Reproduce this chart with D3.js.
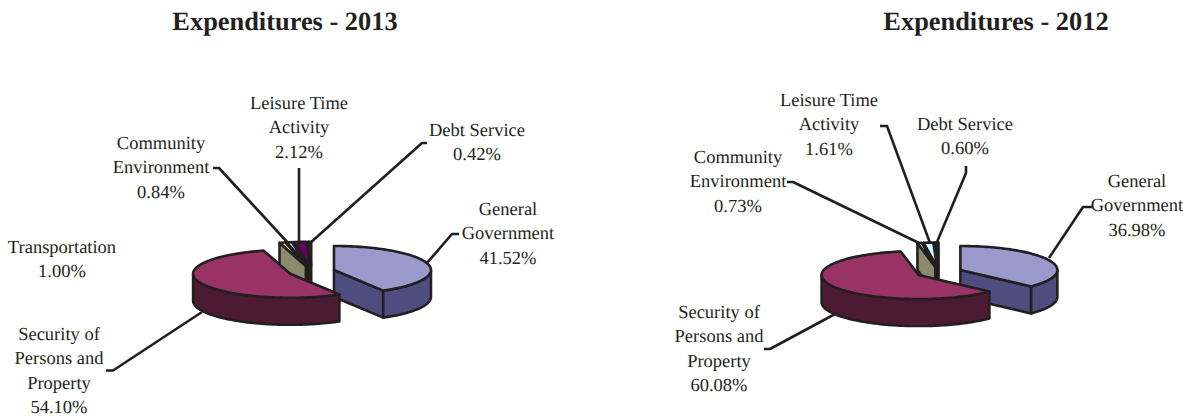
<!DOCTYPE html>
<html>
<head>
<meta charset="utf-8">
<script src="https://cdn.jsdelivr.net/npm/d3@7/dist/d3.min.js"></script>
<style>
  html, body { margin: 0; padding: 0; background: #fff; }
  svg { display: block; }
  text { font-family: "Liberation Serif", serif; fill: #231f20; text-anchor: middle; text-rendering: geometricPrecision; }
</style>
</head>
<body>
<svg id="chart" width="1188" height="417"></svg>
<script>
// Expenditure shares by function, percent of total, clockwise from 12 o'clock
const categories2013 = [
  ["General", "Government"],
  ["Security of", "Persons and", "Property"],
  ["Transportation"],
  ["Community", "Environment"],
  ["Leisure Time", "Activity"],
  ["Debt Service"]
];
const values2013 = [41.52, 54.10, 1.00, 0.84, 2.12, 0.42];
const colors2013 = ["#9999cc", "#993366", "#ffffcc", "#ccffff", "#660066", "#ff8080"];
const walls2013 = ["#4d4d80", "#4d1a33", "#8a8a6c", "#668080", "#330033", "#804040"];

const categories2012 = [
  ["General", "Government"],
  ["Security of", "Persons and", "Property"],
  ["Community", "Environment"],
  ["Leisure Time", "Activity"],
  ["Debt Service"]
];
const values2012 = [36.98, 60.08, 0.73, 1.61, 0.60];
const colors2012 = ["#9999cc", "#993366", "#ffffcc", "#ccffff", "#660066"];
const walls2012 = ["#4d4d80", "#4d1a33", "#8a8a6c", "#668080", "#330033"];

// Page layout of each pie: centre, label anchors (x, first line y), leader polylines
const layout2013 = {
  title: "Expenditures - 2013", titleX: 285,
  cx: 311.5, cy: 271.5,
  labels: [[508, 209], [59, 334], [62, 247], [161, 143], [299, 103], [477, 130]],
  leaders: [
    [[459, 234], [452, 234], [427, 263]],
    [[106, 370.5], [113, 370.5], [202, 312]],
    null,
    [[213, 168], [219, 168], [288, 243]],
    [[299, 168], [299, 245]],
    [[427, 143], [422, 143], [309, 244]]
  ]
};
const layout2012 = {
  title: "Expenditures - 2012", titleX: 996,
  cx: 939, cy: 272.3,
  labels: [[1137, 181], [719, 312], [738, 157], [829, 100], [965, 124]],
  leaders: [
    [[1092, 207], [1083, 207], [1049, 258]],
    [[764, 349], [770, 349], [835, 314]],
    [[787, 182], [793, 182], [919, 243]],
    [[880, 126], [887, 126], [930, 243]],
    [[966, 166], [966, 173], [937, 242]]
  ]
};

const radiusX = 97, radiusY = 24, depth = 27, explode = 0.24;
const inkColor = "#231f20";
const lineWidth = 2.6;
const TAU = Math.PI * 2;

const svg = d3.select("#chart");
const polygon = d3.line();

function drawPie(categories, values, colors, walls, layout) {
  const g = svg.append("g");

  // Unit circle to page offsets: flattened to give the tilted look
  const px = d3.scaleLinear().domain([-1, 1]).range([-radiusX, radiusX]);
  const py = d3.scaleLinear().domain([-1, 1]).range([-radiusY, radiusY]);

  const arcs = d3.pie().sort(null).startAngle(0).endAngle(TAU)(values);

  arcs.forEach((a, i) => {
    const mid = (a.startAngle + a.endAngle) / 2;
    a.ox = layout.cx + px(Math.sin(mid) * explode);
    a.oy = layout.cy + py(-Math.cos(mid) * explode);
    a.color = colors[i];
    a.dark = walls[i];
  });

  const rim = (a, t, drop = 0) => [
    a.ox + px(Math.sin(t)),
    a.oy + py(-Math.cos(t)) + drop
  ];
  const samples = (t0, t1) => {
    const n = Math.max(2, Math.ceil((t1 - t0) / 0.03));
    return d3.range(n + 1).map(k => t0 + (t1 - t0) * k / n);
  };

  const paint = (pts, fill) => g.append("path")
    .attr("d", polygon(pts) + "Z")
    .attr("fill", fill)
    .attr("stroke", inkColor)
    .attr("stroke-width", lineWidth)
    .attr("stroke-linejoin", "round");

  function drawSlice(a) {
    const c = [a.ox, a.oy], cLow = [a.ox, a.oy + depth];
    // Cut faces turned toward the viewer
    if (Math.sin(a.startAngle) < -1e-6) {
      paint([c, rim(a, a.startAngle), rim(a, a.startAngle, depth), cLow], a.dark);
    }
    if (Math.sin(a.endAngle) > 1e-6) {
      paint([c, rim(a, a.endAngle), rim(a, a.endAngle, depth), cLow], a.dark);
    }
    // Outer wall on the near half of the rim
    const w0 = Math.max(a.startAngle, Math.PI / 2);
    const w1 = Math.min(a.endAngle, Math.PI * 1.5);
    if (w1 > w0) {
      const ts = samples(w0, w1);
      paint(ts.map(t => rim(a, t)).concat(ts.slice().reverse().map(t => rim(a, t, depth))), a.dark);
    }
    // Top surface
    paint([c].concat(samples(a.startAngle, a.endAngle).map(t => rim(a, t))), a.color);
  }

  // Far slivers first, then the two big slices with Security on top
  const small = arcs.slice(2).reverse();
  small.forEach(drawSlice);
  drawSlice(arcs[0]);
  drawSlice(arcs[1]);

  // Leader lines
  layout.leaders.forEach(pts => {
    if (!pts) return;
    g.append("path")
      .attr("d", polygon(pts))
      .attr("fill", "none")
      .attr("stroke", inkColor)
      .attr("stroke-width", lineWidth)
      .attr("stroke-linejoin", "round");
  });

  // Category labels with their percentage on the last line
  const fmt = d3.format(".2f");
  categories.forEach((lines, i) => {
    const [x, y] = layout.labels[i];
    lines.concat(fmt(values[i]) + "%").forEach((s, k) => {
      g.append("text")
        .attr("x", x)
        .attr("y", y + k * 24.4)
        .attr("dy", "0.32em")
        .attr("font-size", 18.5)
        .text(s);
    });
  });

  g.append("text")
    .attr("x", layout.titleX)
    .attr("y", 22)
    .attr("dy", "0.32em")
    .attr("font-size", 26.4)
    .attr("font-weight", "bold")
    .text(layout.title);
}

drawPie(categories2013, values2013, colors2013, walls2013, layout2013);
drawPie(categories2012, values2012, colors2012, walls2012, layout2012);
</script>
</body>
</html>
